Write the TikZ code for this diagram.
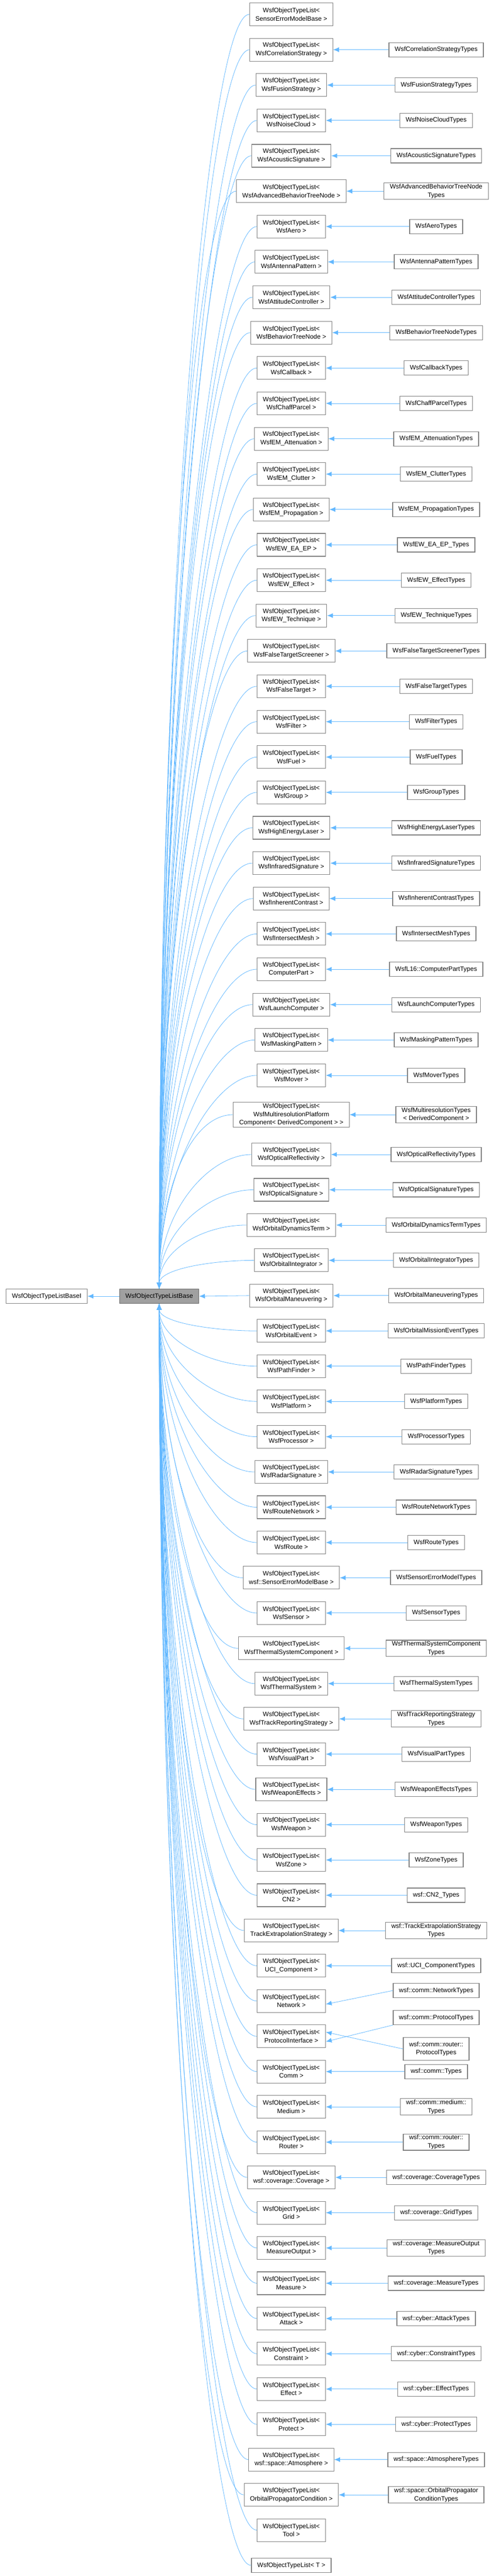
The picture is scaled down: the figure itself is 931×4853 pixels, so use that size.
\documentclass[tikz,border=0pt]{standalone}
\usepackage{fontspec}
\setmainfont{Liberation Sans}
\usetikzlibrary{arrows.meta,positioning,calc}
\definecolor{edgeblue}{HTML}{63B8FF}
\definecolor{boxgray}{HTML}{808080}
\tikzset{
  cls/.style={draw=boxgray,line width=1.1pt,fill=white,align=center,inner xsep=11pt,inner ysep=2pt,minimum height=27pt},
  tpl/.style={cls,minimum height=43pt},
  cur/.style={cls,fill=boxgray!75,draw=black!60},
  edge/.style={draw=edgeblue,line width=0.8pt,<-,>={Latex[length=11pt,width=9pt]}}
}
\newcommand{\rowy}[1]{\pgfmathsetmacro\yy{#1<32 ? 27+(#1-1)*66.63 : (#1==32 ? 2100 : 2175+(#1-33)*66.45)}}
\begin{document}
\begin{tikzpicture}[x=1pt,y=-1pt,font=\fontsize{12}{15.5}\selectfont]
	\useasboundingbox (0,0) rectangle (931,4853);
	% the two bases
	\node[cls] (basei) at (88,2442) {WsfObjectTypeListBaseI};
	\node[cur] (base) at (300,2442) {WsfObjectTypeListBase};
	\draw[edge] (basei) -- (base);

	% templates with one derived class
	\foreach \k/\a/\b in {2/WsfCorrelationStrategy/WsfCorrelationStrategyTypes,
		3/WsfFusionStrategy/WsfFusionStrategyTypes,
		4/WsfNoiseCloud/WsfNoiseCloudTypes,
		5/WsfAcousticSignature/WsfAcousticSignatureTypes,
		6/WsfAdvancedBehaviorTreeNode/{WsfAdvancedBehaviorTreeNode\\Types},
		7/WsfAero/WsfAeroTypes,
		8/WsfAntennaPattern/WsfAntennaPatternTypes,
		9/WsfAttitudeController/WsfAttitudeControllerTypes,
		10/WsfBehaviorTreeNode/WsfBehaviorTreeNodeTypes,
		11/WsfCallback/WsfCallbackTypes,
		12/WsfChaffParcel/WsfChaffParcelTypes,
		13/WsfEM\_Attenuation/WsfEM\_AttenuationTypes,
		14/WsfEM\_Clutter/WsfEM\_ClutterTypes,
		15/WsfEM\_Propagation/WsfEM\_PropagationTypes,
		16/WsfEW\_EA\_EP/WsfEW\_EA\_EP\_Types,
		17/WsfEW\_Effect/WsfEW\_EffectTypes,
		18/WsfEW\_Technique/WsfEW\_TechniqueTypes,
		19/WsfFalseTargetScreener/WsfFalseTargetScreenerTypes,
		20/WsfFalseTarget/WsfFalseTargetTypes,
		21/WsfFilter/WsfFilterTypes,
		22/WsfFuel/WsfFuelTypes,
		23/WsfGroup/WsfGroupTypes,
		24/WsfHighEnergyLaser/WsfHighEnergyLaserTypes,
		25/WsfInfraredSignature/WsfInfraredSignatureTypes,
		26/WsfInherentContrast/WsfInherentContrastTypes,
		27/WsfIntersectMesh/WsfIntersectMeshTypes,
		28/ComputerPart/WsfL16::ComputerPartTypes,
		29/WsfLaunchComputer/WsfLaunchComputerTypes,
		30/WsfMaskingPattern/WsfMaskingPatternTypes,
		31/WsfMover/WsfMoverTypes,
		32/{WsfMultiresolutionPlatform\\Component< DerivedComponent >}/{WsfMultiresolutionTypes\\< DerivedComponent >},
		33/WsfOpticalReflectivity/WsfOpticalReflectivityTypes,
		34/WsfOpticalSignature/WsfOpticalSignatureTypes,
		35/WsfOrbitalDynamicsTerm/WsfOrbitalDynamicsTermTypes,
		36/WsfOrbitalIntegrator/WsfOrbitalIntegratorTypes,
		37/WsfOrbitalManeuvering/WsfOrbitalManeuveringTypes,
		38/WsfOrbitalEvent/WsfOrbitalMissionEventTypes,
		39/WsfPathFinder/WsfPathFinderTypes,
		40/WsfPlatform/WsfPlatformTypes,
		41/WsfProcessor/WsfProcessorTypes,
		42/WsfRadarSignature/WsfRadarSignatureTypes,
		43/WsfRouteNetwork/WsfRouteNetworkTypes,
		44/WsfRoute/WsfRouteTypes,
		45/wsf::SensorErrorModelBase/WsfSensorErrorModelTypes,
		46/WsfSensor/WsfSensorTypes,
		47/WsfThermalSystemComponent/{WsfThermalSystemComponent\\Types},
		48/WsfThermalSystem/WsfThermalSystemTypes,
		49/WsfTrackReportingStrategy/{WsfTrackReportingStrategy\\Types},
		50/WsfVisualPart/WsfVisualPartTypes,
		51/WsfWeaponEffects/WsfWeaponEffectsTypes,
		52/WsfWeapon/WsfWeaponTypes,
		53/WsfZone/WsfZoneTypes,
		54/CN2/wsf::CN2\_Types,
		55/TrackExtrapolationStrategy/{wsf::TrackExtrapolationStrategy\\Types},
		56/UCI\_Component/wsf::UCI\_ComponentTypes,
		59/Comm/wsf::comm::Types,
		60/Medium/{wsf::comm::medium::\\Types},
		61/Router/{wsf::comm::router::\\Types},
		62/wsf::coverage::Coverage/wsf::coverage::CoverageTypes,
		63/Grid/wsf::coverage::GridTypes,
		64/MeasureOutput/{wsf::coverage::MeasureOutput\\Types},
		65/Measure/wsf::coverage::MeasureTypes,
		66/Attack/wsf::cyber::AttackTypes,
		67/Constraint/wsf::cyber::ConstraintTypes,
		68/Effect/wsf::cyber::EffectTypes,
		69/Protect/wsf::cyber::ProtectTypes,
		70/wsf::space::Atmosphere/wsf::space::AtmosphereTypes,
		71/OrbitalPropagatorCondition/{wsf::space::OrbitalPropagator\\ConditionTypes}}{
		\rowy{\k}
		\node[tpl] (t\k) at (549,\yy) {WsfObjectTypeList<\\ \a{} >};
		\node[cls] (d\k) at (822,\yy) {\b};
		\draw[edge] (t\k) -- (d\k);
	}

	% templates without derived class
	\rowy{1}  \node[tpl] (t1) at (549,\yy) {WsfObjectTypeList<\\ SensorErrorModelBase >};
	\rowy{72} \node[tpl] (t72) at (549,\yy) {WsfObjectTypeList<\\ Tool >};
	\rowy{73} \node[cls] (t73) at (549,\yy) {WsfObjectTypeList< T >};

	% comm rows
	\rowy{57} \node[tpl] (t57) at (549,\yy) {WsfObjectTypeList<\\ Network >};
	\node[cls] (d57) at (822,3750) {wsf::comm::NetworkTypes};
	\draw[edge] ([yshift=-6pt]t57.east) -- (d57.west);
	\rowy{58} \node[tpl] (t58) at (549,\yy) {WsfObjectTypeList<\\ ProtocolInterface >};
	\node[cls] (d58a) at (822,3801) {wsf::comm::ProtocolTypes};
	\node[tpl] (d58b) at (822,3860) {wsf::comm::router::\\ProtocolTypes};
	\draw[edge] ([yshift=-10pt]t58.east) -- (d58a.south west);
	\draw[edge] ([yshift=8pt]t58.east) -- (d58b.west);

	% edges to the base
	\foreach \k in {1,...,73}{
		\rowy{\k}
		\ifnum\k=37
			\draw[edge] (base.east) -- (t37.west);
		\else\ifnum\k<37
			\draw[edge] (base.north) .. controls +(0,{(\yy-2442)*0.55}) and +(-80,0) .. (t\k.west);
		\else
			\draw[edge] (base.south) .. controls +(0,{(\yy-2442)*0.55}) and +(-80,0) .. (t\k.west);
		\fi\fi
	}
\end{tikzpicture}
\end{document}
